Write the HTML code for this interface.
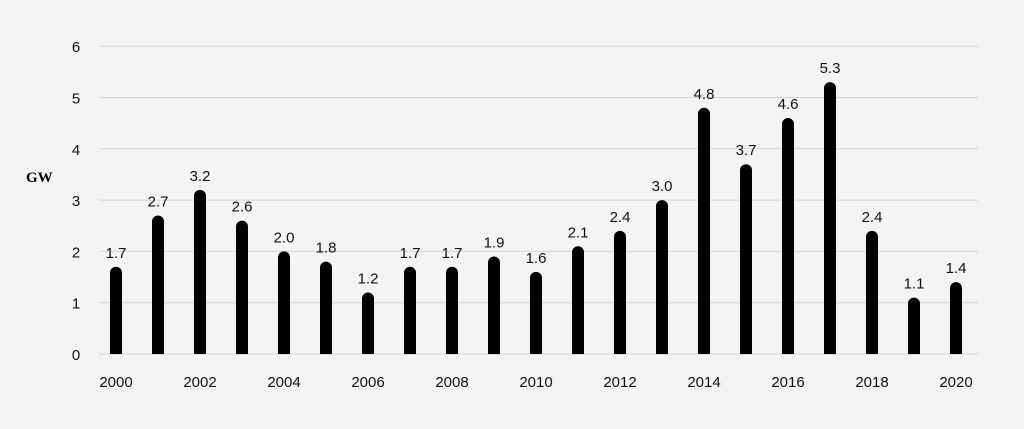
<!DOCTYPE html>
<html><head><meta charset="utf-8"><style>
html,body{margin:0;padding:0;background:#f3f5f4;}
svg{display:block;font-family:"Liberation Sans",sans-serif;}
</style></head><body>
<svg id="chart" width="1024" height="429">
<rect width="1024" height="429" fill="#f3f5f4"/>
<text x="26" y="182" font-family="Liberation Serif,serif" font-weight="bold" font-size="15">GW</text>
<g id="grid"></g><g id="bars"></g><g id="labels"></g><g id="xticks"></g>
</svg>
<script>
const years=[2000,2001,2002,2003,2004,2005,2006,2007,2008,2009,2010,2011,2012,2013,2014,2015,2016,2017,2018,2019,2020];
const values=[1.7,2.7,3.2,2.6,2.0,1.8,1.2,1.7,1.7,1.9,1.6,2.1,2.4,3.0,4.8,3.7,4.6,5.3,2.4,1.1,1.4];
const yTicks=[0,1,2,3,4,5,6];
const NS="http://www.w3.org/2000/svg";
const x0=116,dx=42,y0=354,unit=51.3,bw=12;
const xs=i=>x0+i*dx, ys=v=>y0-v*unit;
function mk(t,a,p,txt){const e=document.createElementNS(NS,t);for(const k in a)e.setAttribute(k,a[k]);if(txt!=null)e.textContent=txt;document.getElementById(p).appendChild(e);return e;}
yTicks.forEach(t=>{
  const l=mk('line',{x1:99,x2:978,y1:ys(t),y2:ys(t),stroke:t===0?'#cfd2d0':'#d4d7d5','stroke-width':1},'grid');
  
  
  const tx=mk('text',{x:76,y:ys(t)+6,'text-anchor':'middle','font-size':15,fill:'#111'},'grid',String(t));
  
  
});
values.forEach((v,i)=>{
  const x=xs(i),top=ys(v),r=bw/2;
  const p=mk('path',{d:`M${x-r},${y0} L${x-r},${top+r} A${r},${r} 0 0 1 ${x+r},${top+r} L${x+r},${y0} Z`,fill:'#000'},'bars');
  
  
  const t=mk('text',{x:x,y:top-9,'text-anchor':'middle','font-size':15,fill:'#111'},'labels',v.toFixed(1));
  
  
  if(i%2===0){
    const yt=mk('text',{x:x,y:387,'text-anchor':'middle','font-size':15,fill:'#111'},'xticks',String(years[i]));
    
    
  }
});
</script>
</body></html>
